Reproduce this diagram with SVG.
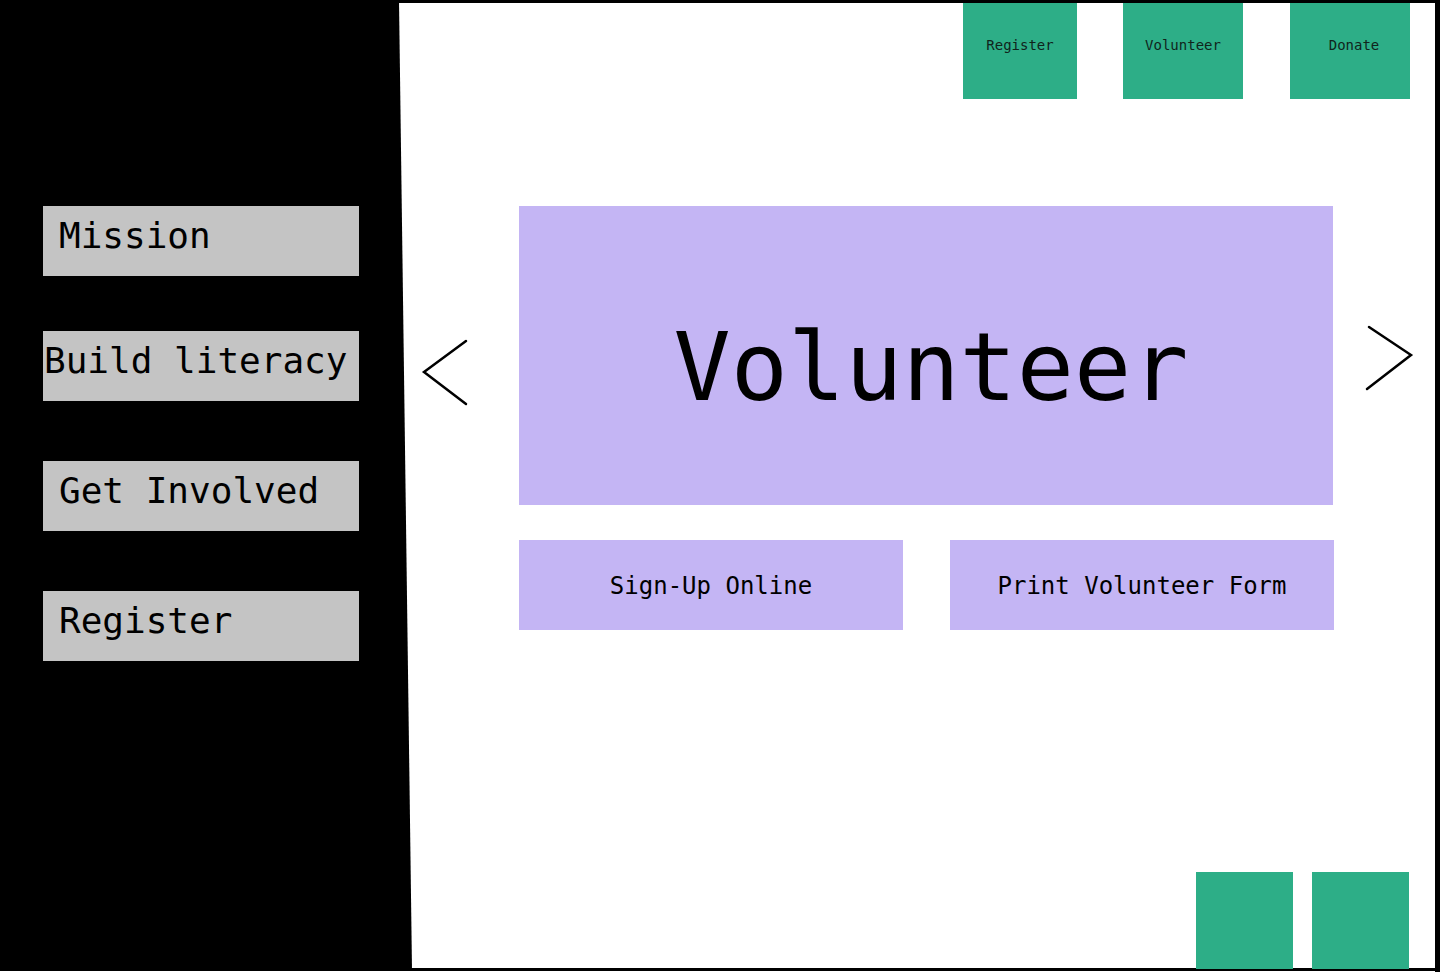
<svg xmlns="http://www.w3.org/2000/svg" width="1440" height="972" viewBox="0 0 1440 972">
<style>
  text { font-family: "DejaVu Sans Mono", "Liberation Mono", monospace; fill: #000; }
  .side { fill: #c4c4c4; }
  .side-t { font-size: 36px; }
  .green { fill: #2dae87; }
  .green-t { font-size: 14px; fill: #10241c; text-anchor: middle; }
  .purple { fill: #c4b5f4; }
  .btn-t { font-size: 24px; text-anchor: middle; }
  .chev { fill: none; stroke: #000; stroke-width: 2.5; stroke-linecap: round; stroke-linejoin: miter; }
</style>
<rect x="0" y="0" width="1440" height="972" fill="#fff"/>
<g id="frame">
  <rect x="1.5" y="1.5" width="1436" height="968" fill="none" stroke="#000" stroke-width="3"/>
  <rect x="1435" y="0" width="5" height="972" fill="#000"/>
</g>
<g id="sidebar">
  <polygon points="0,0 399,0 412,970 0,970" fill="#000"/>
</g>
<g id="nav-mission">
  <rect class="side" x="43" y="206" width="316" height="70"/>
  <text class="side-t" x="59" y="248">Mission</text>
</g>
<g id="nav-build-literacy">
  <rect class="side" x="43" y="331" width="316" height="70"/>
  <text class="side-t" x="44" y="373">Build literacy</text>
</g>
<g id="nav-get-involved">
  <rect class="side" x="43" y="461" width="316" height="70"/>
  <text class="side-t" x="59" y="503">Get Involved</text>
</g>
<g id="nav-register">
  <rect class="side" x="43" y="591" width="316" height="70"/>
  <text class="side-t" x="59" y="633">Register</text>
</g>
<g id="top-register">
  <rect class="green" x="963" y="3" width="114" height="96"/>
  <text class="green-t" x="1020" y="50">Register</text>
</g>
<g id="top-volunteer">
  <rect class="green" x="1123" y="3" width="120" height="96"/>
  <text class="green-t" x="1183" y="50">Volunteer</text>
</g>
<g id="top-donate">
  <rect class="green" x="1290" y="3" width="120" height="96"/>
  <text class="green-t" x="1354" y="50">Donate</text>
</g>
<g id="hero">
  <rect class="purple" x="519" y="206" width="814" height="299"/>
  <text x="931" y="400" font-size="95" text-anchor="middle">Volunteer</text>
</g>
<g id="prev-arrow">
  <polyline class="chev" points="466,341 424,372 466,404"/>
</g>
<g id="next-arrow">
  <polyline class="chev" points="1369,327 1411,355 1367,389"/>
</g>
<g id="btn-signup">
  <rect class="purple" x="519" y="540" width="384" height="90"/>
  <text class="btn-t" x="711" y="594">Sign-Up Online</text>
</g>
<g id="btn-print">
  <rect class="purple" x="950" y="540" width="384" height="90"/>
  <text class="btn-t" x="1142" y="594">Print Volunteer Form</text>
</g>
<g id="bottom-box-1">
  <rect class="green" x="1196" y="872" width="97" height="97"/>
</g>
<g id="bottom-box-2">
  <rect class="green" x="1312" y="872" width="97" height="97"/>
</g>
<g id="connectors"></g>
</svg>
